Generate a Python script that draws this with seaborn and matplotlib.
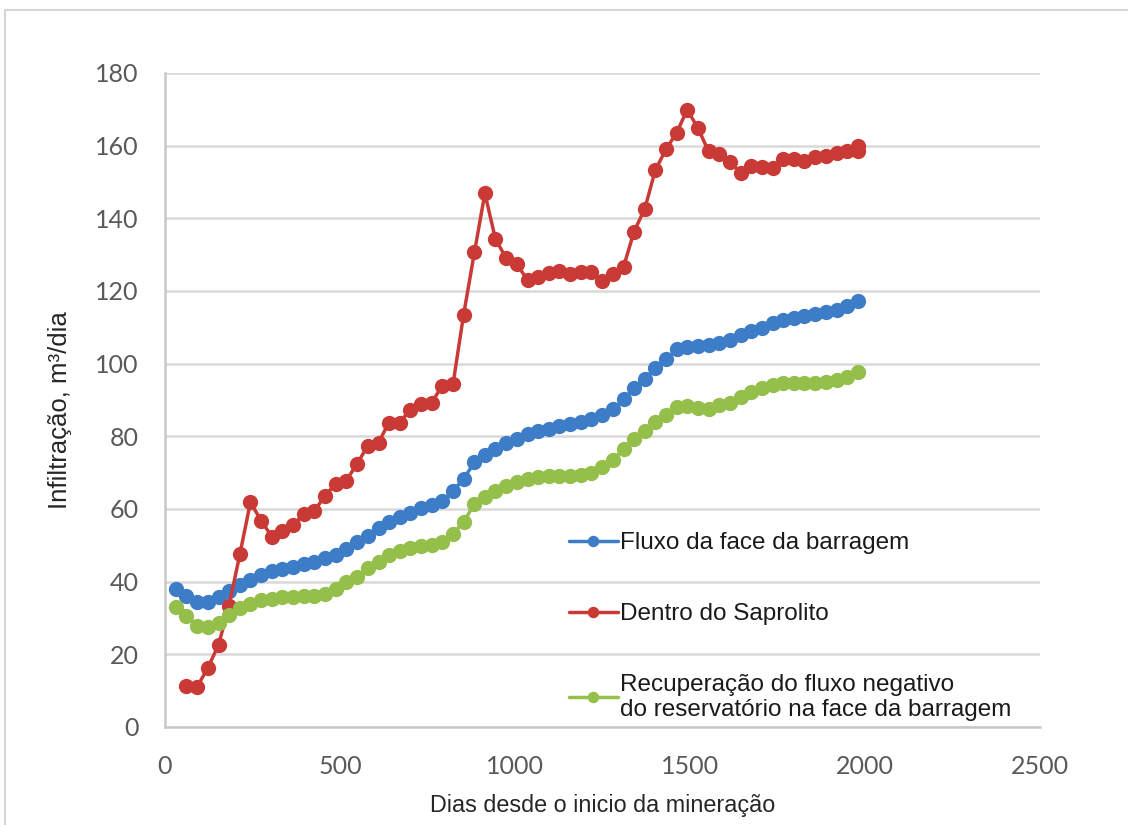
import numpy as np
import pandas as pd
import matplotlib.pyplot as plt
import seaborn as sns
from matplotlib.patches import Rectangle

# --- data ---
days = [31, 61, 92, 122, 153, 183, 214, 244, 275, 305,
        335, 366, 396, 427, 457, 488, 518, 549, 579, 610,
        640, 670, 701, 731, 762, 792, 823, 853, 884, 914,
        944, 975, 1005, 1036, 1066, 1097, 1127, 1157, 1188, 1218,
        1249, 1279, 1310, 1340, 1371, 1401, 1432, 1462, 1492, 1523,
        1553, 1584, 1614, 1645, 1675, 1705, 1736, 1766, 1797, 1827,
        1858, 1888, 1919, 1949, 1979]

fluxo_face = [37.9, 36.0, 34.5, 34.5, 35.7, 37.4, 39.2, 40.5, 41.7, 42.8,
              43.4, 44.1, 44.9, 45.5, 46.4, 47.3, 49.0, 50.8, 52.6, 54.8,
              56.4, 57.8, 59.0, 60.3, 61.2, 62.2, 65.0, 68.3, 72.8, 75.0,
              76.6, 78.2, 79.4, 80.6, 81.5, 82.1, 82.8, 83.4, 84.0, 84.9,
              86.0, 87.4, 90.2, 93.2, 95.9, 98.8, 101.3, 103.9, 104.5, 104.9,
              105.1, 105.7, 106.4, 107.9, 109.0, 109.9, 111.2, 112.0, 112.5, 113.1,
              113.8, 114.3, 114.9, 115.9, 117.3]

recuperacao = [33.1, 30.6, 27.9, 27.4, 28.5, 30.8, 32.8, 33.9, 34.9, 35.3,
               35.8, 35.8, 36.1, 36.1, 36.5, 37.9, 39.8, 41.3, 43.8, 45.5,
               47.3, 48.5, 49.2, 49.7, 50.2, 51.0, 53.2, 56.4, 61.4, 63.3,
               65.0, 66.3, 67.4, 68.2, 68.8, 69.0, 69.1, 69.1, 69.4, 70.0,
               71.6, 73.5, 76.5, 79.4, 81.5, 84.0, 86.0, 88.1, 88.3, 87.8,
               87.4, 88.6, 89.2, 90.9, 92.2, 93.2, 94.1, 94.6, 94.6, 94.6,
               94.6, 95.0, 95.5, 96.2, 97.8]

# saprolito starts one month later and has a second reading on the last day
days_sap = days[1:] + [1979]
saprolito = [11.4, 11.1, 16.2, 22.6, 33.4, 47.6, 61.8, 56.8, 52.4,
             54.0, 55.6, 58.5, 59.5, 63.6, 67.0, 67.8, 72.5, 77.3, 78.3,
             83.8, 83.8, 87.3, 88.8, 89.3, 93.9, 94.4, 113.4, 130.6, 146.9,
             134.3, 129.0, 127.4, 123.0, 123.9, 125.0, 125.6, 124.8, 125.2, 125.1,
             122.7, 124.8, 126.6, 136.3, 142.7, 153.3, 159.1, 163.6, 169.9, 164.8,
             158.4, 157.7, 155.5, 152.5, 154.3, 154.2, 153.9, 156.2, 156.2, 155.8,
             157.0, 157.2, 157.9, 158.5, 159.9, 158.6]

labels = ["Fluxo da face da barragem",
          "Dentro do Saprolito",
          "Recuperação do fluxo negativo\ndo reservatório na face da barragem"]
colors = ["#3D7CC6", "#C93A36", "#93BF4A"]

x_ticks = [0, 500, 1000, 1500, 2000, 2500]
y_ticks = [0, 20, 40, 60, 80, 100, 120, 140, 160, 180]

# --- plot ---
sns.set_style("white")
plt.rcParams['font.family'] = ['Liberation Sans', 'DejaVu Sans']

fig = plt.figure(figsize=(11.28, 8.25), dpi=100)
fig.patch.set_facecolor("white")
ax = fig.add_axes([165 / 1128, 1 - 727 / 825, 875 / 1128, 654 / 825])

series = [(days, fluxo_face), (days_sap, saprolito), (days, recuperacao)]
for (xs, ys), lab, col in zip(series, labels, colors):
    df = pd.DataFrame({"dias": xs, "infiltracao": ys})
    sns.lineplot(data=df, x="dias", y="infiltracao", ax=ax, color=col, label=lab,
                 estimator=None, sort=False, linewidth=2.5, marker="o",
                 markersize=11, markeredgewidth=0)

ax.set_xlim(0, 2500)
ax.set_ylim(0, 180)
ax.set_xticks(x_ticks)
ax.set_yticks(y_ticks)
ax.grid(axis="y", color="#d9d9d9", linewidth=1.8)
ax.set_axisbelow(True)
for s in ["top", "right"]:
    ax.spines[s].set_visible(False)
for s in ["left", "bottom"]:
    ax.spines[s].set_color("#c8c8c8")
    ax.spines[s].set_linewidth(1.8)
ax.tick_params(length=0)
ax.tick_params(axis="y", pad=19)
ax.tick_params(axis="x", pad=20)
for t in ax.get_xticklabels() + ax.get_yticklabels():
    t.set_fontfamily(["Lato", "DejaVu Sans"])
    t.set_fontsize(18)
    t.set_color("#595959")

ax.set_xlabel("Dias desde o inicio da mineração", fontsize=16.8, color="#262626", labelpad=12)
ax.set_ylabel("Infiltração, m³/dia", fontsize=18.5, color="#262626")
ax.yaxis.set_label_coords(-0.106, 0.485)

leg = ax.legend(loc="upper left", bbox_to_anchor=(0.4366, 0.331), frameon=False,
                fontsize=17.5, handlelength=2.0, handletextpad=0.1,
                labelspacing=2.0, markerscale=0.75)
for t in leg.get_texts():
    t.set_color("#1a1a1a")

# light frame around the chart area, as in the reference
fig.patches.append(Rectangle((5 / 1128, -0.1), 1.2, 1 - 10 / 825 + 0.1,
                             transform=fig.transFigure, fill=False,
                             edgecolor="#d6d6d6", linewidth=1.5))

fig.savefig("out.png", dpi=100)
